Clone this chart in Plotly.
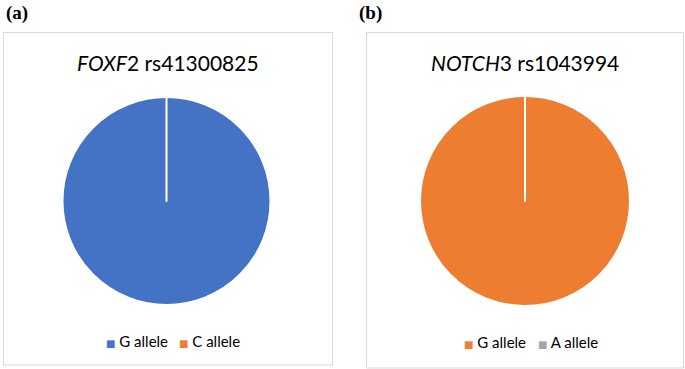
import plotly.graph_objects as go

# Data
titles = ["<i>FOXF</i>2 rs41300825", "<i>NOTCH</i>3 rs1043994"]
labels_a = ["G allele", "C allele"]
values_a = [100, 0]
labels_b = ["G allele", "A allele"]
values_b = [100, 0]
colors_a = ["#4472C4", "#ED7D31"]
colors_b = ["#ED7D31", "#A5A5A5"]
panel_labels = ["(a)", "(b)"]

W, H = 685, 369
FONT = "Lato, 'Open Sans', sans-serif"

fig = go.Figure()
fig.add_trace(go.Pie(
    labels=labels_a, values=values_a, sort=False, direction="clockwise", rotation=0,
    marker=dict(colors=colors_a, line=dict(color="white", width=2)),
    textinfo="none", hoverinfo="label+value", showlegend=False,
    domain=dict(x=[62/W, 271/W], y=[1-305/H, 1-97/H]),
))
fig.add_trace(go.Pie(
    labels=labels_b, values=values_b, sort=False, direction="clockwise", rotation=0,
    marker=dict(colors=colors_b, line=dict(color="white", width=2)),
    textinfo="none", hoverinfo="label+value", showlegend=False,
    domain=dict(x=[420/W, 630/W], y=[1-306/H, 1-96/H]),
))

shapes = [
    dict(type="rect", xref="paper", yref="paper", x0=3.5/W, x1=332.5/W, y0=1-365/H, y1=1-32.5/H,
         line=dict(color="#D9D9D9", width=1), fillcolor="rgba(0,0,0,0)"),
    dict(type="rect", xref="paper", yref="paper", x0=366.5/W, x1=683.5/W, y0=1-368/H, y1=1-32.5/H,
         line=dict(color="#D9D9D9", width=1), fillcolor="rgba(0,0,0,0)"),
]

annotations = [
    dict(text=titles[0], x=168/W, y=1-62/H, xref="paper", yref="paper", showarrow=False,
         font=dict(family=FONT, size=21, color="#000"), xanchor="center", yanchor="middle"),
    dict(text=titles[1], x=525/W, y=1-62/H, xref="paper", yref="paper", showarrow=False,
         font=dict(family=FONT, size=21, color="#000"), xanchor="center", yanchor="middle"),
    dict(text="<b>" + panel_labels[0] + "</b>", x=4/W, y=1-13/H, xref="paper", yref="paper", showarrow=False,
         font=dict(family="'Liberation Serif', 'Times New Roman', serif", size=19, color="#000"),
         xanchor="left", yanchor="middle"),
    dict(text="<b>" + panel_labels[1] + "</b>", x=357/W, y=1-13/H, xref="paper", yref="paper", showarrow=False,
         font=dict(family="'Liberation Serif', 'Times New Roman', serif", size=19, color="#000"),
         xanchor="left", yanchor="middle"),
]

# Legends (swatch + label), positioned per item
legend_items = [
    (labels_a[0], colors_a[0], 104, 341),
    (labels_a[1], colors_a[1], 177, 341),
    (labels_b[0], colors_b[0], 462, 342),
    (labels_b[1], colors_b[1], 536, 342),
]
for lab, col, px, py in legend_items:
    annotations.append(dict(
        text=f"<span style='color:{col};font-size:10px;font-family:DejaVu Sans'>■</span> {lab}",
        x=px/W, y=1-py/H, xref="paper", yref="paper", showarrow=False,
        xanchor="left", yanchor="middle", font=dict(family=FONT, size=15, color="#000"),
    ))

fig.update_layout(
    width=W, height=H, margin=dict(l=0, r=0, t=0, b=0),
    paper_bgcolor="white", plot_bgcolor="white",
    shapes=shapes, annotations=annotations, showlegend=False,
)

fig.write_html("out.html", config={"displayModeBar": False},
               post_script="document.body.style.margin='0';")
